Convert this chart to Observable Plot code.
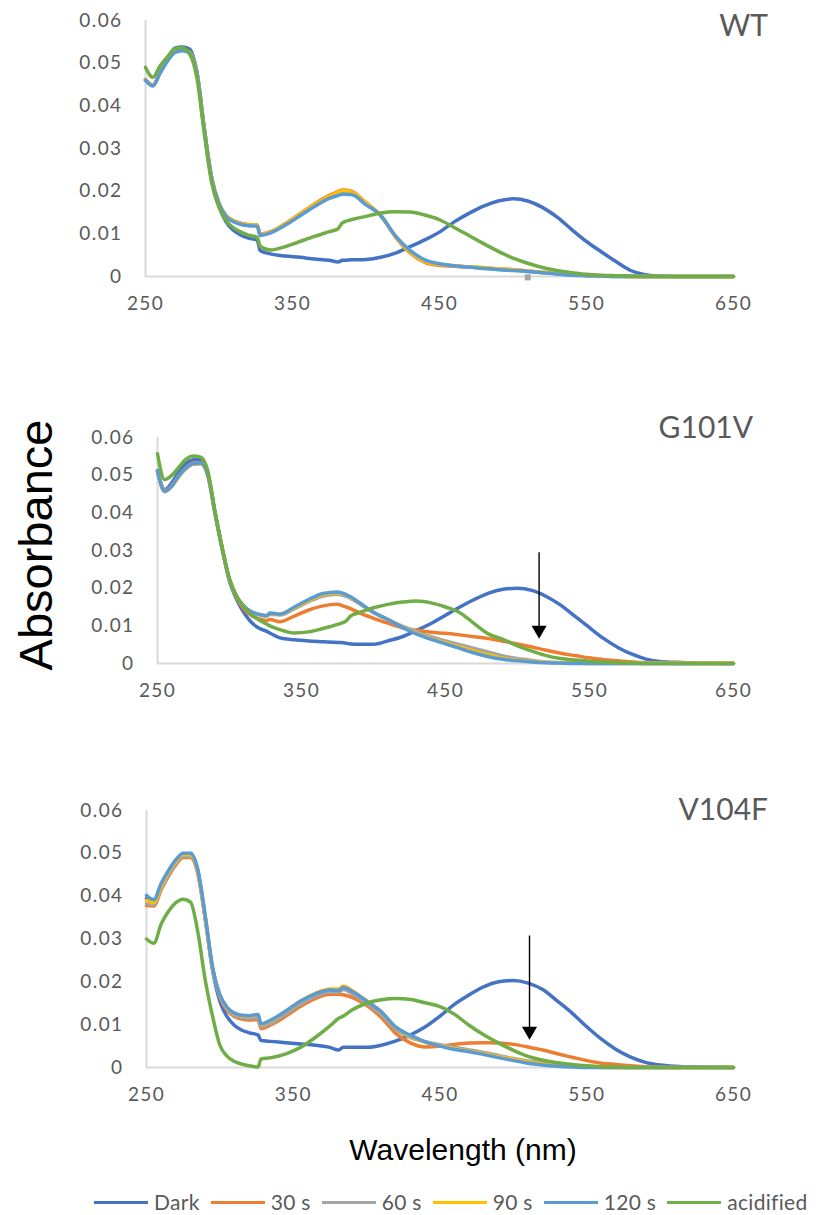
<!DOCTYPE html>
<html><head><meta charset="utf-8">
<script src="https://cdn.jsdelivr.net/npm/d3@7"></script>
<script src="https://cdn.jsdelivr.net/npm/@observablehq/plot@0.6"></script>
<style>
body{margin:0;background:#fff;}
#root{position:relative;width:819px;height:1215px;overflow:hidden;background:#fff;}
.panel{position:absolute;left:0;}
.title{position:absolute;font-family:Lato,sans-serif;font-size:30px;color:#595959;line-height:30px;white-space:nowrap;}
#ylab{position:absolute;left:35px;top:545px;transform:translate(-50%,-50%) rotate(-90deg);font-family:"Liberation Sans",Arial,sans-serif;font-size:47px;color:#000;white-space:nowrap;line-height:47px;}
#xlab{position:absolute;left:463px;top:1150px;transform:translate(-50%,-50%);font-family:"Liberation Sans",Arial,sans-serif;font-size:30px;color:#000;white-space:nowrap;line-height:30px;}
#legend{position:absolute;left:94px;top:1190px;height:24px;display:flex;align-items:center;font-family:Lato,sans-serif;font-size:21px;letter-spacing:0.3px;line-height:24px;color:#595959;white-space:nowrap;}
#legend .lt{display:inline-block;line-height:24px;}
</style></head>
<body><div id="root"></div>
<script>
// ---- data ----
const wavelengths = [250,255,260,265,270,275,280,285,290,295,300,305,310,315,320,326,328,335,345,355,365,375,381,384,390,400,410,420,430,440,450,460,470,480,490,500,510,520,530,540,550,560,570,580,590,600,610,625,650];
const seriesNames = ["Dark","30 s","60 s","90 s","120 s","acidified"];
const seriesColors = ["#4472C4","#ED7D31","#A5A5A5","#FFC000","#5B9BD5","#70AD47"];
const panelTitles = ["WT","G101V","V104F"];
const xTicks = [250,350,450,550,650];
const yTicks = [0,0.01,0.02,0.03,0.04,0.05,0.06];

// WT
const wtDark = [0.0460,0.0447,0.0480,0.0510,0.0535,0.0538,0.0533,0.0478,0.0345,0.0225,0.0165,0.0127,0.0108,0.0097,0.0090,0.0085,0.0061,0.0053,0.0048,0.0045,0.0041,0.0038,0.0034,0.0038,0.0039,0.0040,0.0045,0.0055,0.0070,0.0086,0.0104,0.0128,0.0148,0.0165,0.0177,0.0182,0.0177,0.0162,0.0139,0.0110,0.0082,0.0058,0.0035,0.0014,0.0004,0.0001,0,0,0];
const wt30s = [0.0462,0.0449,0.0479,0.0507,0.0527,0.0531,0.0526,0.0478,0.0347,0.0232,0.0172,0.0142,0.0131,0.0125,0.0122,0.0121,0.0099,0.0105,0.0124,0.0147,0.0170,0.0190,0.0199,0.0203,0.0200,0.0173,0.0143,0.0093,0.0055,0.0033,0.0026,0.0024,0.0022,0.0020,0.0018,0.0016,0.0013,0.0010,0.0007,0.0004,0.0003,0.0002,0.0001,0,0,0,0,0,0];
const wt60s = [0.0461,0.0448,0.0478,0.0506,0.0526,0.0530,0.0525,0.0477,0.0346,0.0231,0.0171,0.0141,0.0130,0.0124,0.0121,0.0120,0.0098,0.0104,0.0122,0.0145,0.0167,0.0186,0.0195,0.0199,0.0197,0.0171,0.0143,0.0095,0.0058,0.0036,0.0028,0.0025,0.0022,0.0020,0.0017,0.0015,0.0012,0.0009,0.0006,0.0004,0.0002,0.0001,0,0,0,0,0,0,0];
const wt90s = [0.0461,0.0448,0.0478,0.0506,0.0526,0.0530,0.0525,0.0477,0.0346,0.0231,0.0171,0.0141,0.0130,0.0124,0.0121,0.0120,0.0098,0.0104,0.0123,0.0146,0.0168,0.0188,0.0197,0.0201,0.0198,0.0172,0.0143,0.0094,0.0057,0.0035,0.0028,0.0025,0.0023,0.0021,0.0018,0.0016,0.0013,0.0010,0.0007,0.0004,0.0003,0.0002,0.0001,0,0,0,0,0,0];
const wt120s = [0.0460,0.0447,0.0477,0.0505,0.0525,0.0529,0.0524,0.0476,0.0345,0.0230,0.0170,0.0140,0.0128,0.0122,0.0119,0.0118,0.0096,0.0102,0.0120,0.0142,0.0164,0.0183,0.0190,0.0193,0.0192,0.0168,0.0143,0.0095,0.0061,0.0039,0.0030,0.0025,0.0022,0.0019,0.0016,0.0014,0.0012,0.0009,0.0006,0.0003,0.0002,0.0001,0,0,0,0,0,0,0];
const wtAcidified = [0.0490,0.0467,0.0494,0.0515,0.0534,0.0536,0.0522,0.0465,0.0335,0.0220,0.0162,0.0130,0.0114,0.0104,0.0097,0.0092,0.0071,0.0062,0.0070,0.0082,0.0094,0.0105,0.0112,0.0126,0.0133,0.0141,0.0149,0.0152,0.0151,0.0144,0.0133,0.0115,0.0096,0.0077,0.0059,0.0043,0.0031,0.0021,0.0014,0.0009,0.0005,0.0003,0.0002,0.0001,0,0,0,0,0];

// G101V
const g101vDark = [0.0512,0.0462,0.0480,0.0510,0.0532,0.0541,0.0542,0.0504,0.0400,0.0305,0.0218,0.0170,0.0135,0.0110,0.0095,0.0085,0.0081,0.0068,0.0063,0.0060,0.0058,0.0056,0.0054,0.0052,0.0051,0.0051,0.0060,0.0071,0.0088,0.0106,0.0128,0.0150,0.0170,0.0187,0.0197,0.0200,0.0194,0.0178,0.0155,0.0125,0.0095,0.0066,0.0042,0.0024,0.0011,0.0005,0.0003,0.0001,0];
const g101v30s = [0.0510,0.0460,0.0473,0.0500,0.0521,0.0532,0.0533,0.0500,0.0398,0.0303,0.0221,0.0174,0.0145,0.0128,0.0119,0.0114,0.0117,0.0111,0.0126,0.0142,0.0153,0.0157,0.0150,0.0146,0.0135,0.0120,0.0107,0.0095,0.0088,0.0083,0.0080,0.0076,0.0071,0.0066,0.0059,0.0052,0.0044,0.0035,0.0027,0.0021,0.0015,0.0010,0.0007,0.0004,0.0002,0.0001,0,0,0];
const g101v60s = [0.0508,0.0456,0.0470,0.0497,0.0518,0.0529,0.0530,0.0498,0.0397,0.0302,0.0221,0.0177,0.0151,0.0137,0.0130,0.0126,0.0131,0.0129,0.0145,0.0164,0.0179,0.0184,0.0178,0.0173,0.0159,0.0135,0.0116,0.0099,0.0084,0.0071,0.0060,0.0050,0.0040,0.0030,0.0020,0.0013,0.0008,0.0004,0.0002,0.0001,0,0,0,0,0,0,0,0,0];
const g101v90s = [0.0510,0.0458,0.0471,0.0499,0.0519,0.0530,0.0531,0.0499,0.0398,0.0303,0.0222,0.0178,0.0152,0.0138,0.0131,0.0127,0.0133,0.0131,0.0148,0.0167,0.0183,0.0188,0.0182,0.0176,0.0161,0.0136,0.0117,0.0097,0.0080,0.0066,0.0055,0.0044,0.0033,0.0023,0.0014,0.0009,0.0005,0.0003,0.0002,0.0001,0.0001,0.0001,0.0001,0.0001,0.0001,0.0001,0.0001,0.0001,0.0001];
const g101v120s = [0.0512,0.0458,0.0472,0.0500,0.0520,0.0531,0.0532,0.0500,0.0398,0.0303,0.0222,0.0178,0.0152,0.0138,0.0131,0.0127,0.0134,0.0131,0.0150,0.0170,0.0186,0.0190,0.0183,0.0177,0.0162,0.0136,0.0117,0.0096,0.0078,0.0064,0.0052,0.0040,0.0028,0.0018,0.0011,0.0007,0.0004,0.0002,0.0001,0,0,0,0,0,0,0,0,0,0];
const g101vAcidified = [0.0557,0.0488,0.0500,0.0522,0.0543,0.0551,0.0548,0.0510,0.0402,0.0306,0.0225,0.0178,0.0150,0.0130,0.0117,0.0104,0.0100,0.0090,0.0081,0.0084,0.0093,0.0104,0.0113,0.0126,0.0135,0.0148,0.0157,0.0163,0.0166,0.0161,0.0150,0.0135,0.0106,0.0078,0.0064,0.0047,0.0033,0.0021,0.0013,0.0009,0.0006,0.0004,0.0002,0.0001,0,0,0,0,0];

// V104F
const v104fDark = [0.0395,0.0388,0.0425,0.0456,0.0482,0.0498,0.0498,0.0458,0.0350,0.0228,0.0155,0.0118,0.0098,0.0087,0.0081,0.0076,0.0063,0.0061,0.0058,0.0055,0.0052,0.0047,0.0041,0.0047,0.0047,0.0047,0.0052,0.0062,0.0076,0.0095,0.0120,0.0148,0.0170,0.0189,0.0200,0.0203,0.0197,0.0182,0.0155,0.0127,0.0095,0.0066,0.0042,0.0024,0.0012,0.0006,0.0003,0.0001,0];
const v104f30s = [0.0378,0.0377,0.0415,0.0447,0.0473,0.0490,0.0490,0.0452,0.0347,0.0230,0.0165,0.0133,0.0119,0.0113,0.0111,0.0112,0.0091,0.0100,0.0120,0.0143,0.0161,0.0171,0.0171,0.0170,0.0164,0.0145,0.0117,0.0079,0.0057,0.0048,0.0050,0.0054,0.0057,0.0058,0.0057,0.0054,0.0048,0.0041,0.0032,0.0024,0.0016,0.0010,0.0007,0.0004,0.0002,0.0001,0,0,0];
const v104f60s = [0.0382,0.0380,0.0418,0.0450,0.0476,0.0493,0.0493,0.0455,0.0349,0.0232,0.0167,0.0136,0.0122,0.0117,0.0115,0.0117,0.0095,0.0104,0.0125,0.0148,0.0166,0.0176,0.0176,0.0182,0.0173,0.0150,0.0124,0.0089,0.0070,0.0060,0.0053,0.0047,0.0041,0.0035,0.0028,0.0021,0.0015,0.0010,0.0006,0.0003,0.0002,0.0001,0,0,0,0,0,0,0];
const v104f90s = [0.0390,0.0385,0.0424,0.0456,0.0481,0.0497,0.0497,0.0459,0.0352,0.0234,0.0169,0.0139,0.0126,0.0121,0.0120,0.0123,0.0101,0.0110,0.0131,0.0155,0.0173,0.0183,0.0183,0.0190,0.0180,0.0156,0.0130,0.0094,0.0073,0.0059,0.0051,0.0044,0.0038,0.0032,0.0025,0.0019,0.0013,0.0008,0.0005,0.0003,0.0001,0,0,0,0,0,0,0,0];
const v104f120s = [0.0402,0.0392,0.0430,0.0460,0.0485,0.0500,0.0500,0.0462,0.0355,0.0235,0.0170,0.0140,0.0127,0.0122,0.0121,0.0124,0.0102,0.0111,0.0132,0.0155,0.0172,0.0181,0.0180,0.0187,0.0178,0.0155,0.0130,0.0094,0.0075,0.0060,0.0050,0.0042,0.0037,0.0030,0.0023,0.0016,0.0010,0.0006,0.0003,0.0001,0,0,0,0,0,0,0,0,0];
const v104fAcidified = [0.0300,0.0290,0.0335,0.0365,0.0385,0.0393,0.0386,0.0316,0.0205,0.0120,0.0052,0.0026,0.0014,0.0008,0.0004,0.0001,0.0020,0.0023,0.0032,0.0047,0.0070,0.0097,0.0115,0.0120,0.0134,0.0150,0.0158,0.0161,0.0159,0.0151,0.0142,0.0124,0.0098,0.0076,0.0057,0.0040,0.0026,0.0017,0.0011,0.0007,0.0004,0.0002,0.0001,0,0,0,0,0,0];

// arrows: [wavelength, top absorbance, tip absorbance] (none for WT)
const arrowG101V = [515, 0.0278, 0.0066];
const arrowV104F = [511, 0.0293, 0.0065];
// small grey marker sitting on WT baseline: [wavelength, absorbance]
const wtMarker = [510, -0.0002];

// ---- layout ----
const panels = [
  {title: panelTitles[0], series: [wtDark, wt30s, wt60s, wt90s, wt120s, wtAcidified], arrow: null, marker: wtMarker,
   top: 0, height: 330, mt: 20, mb: 54, ml: 145, titleRight: 51, titleTop: 9},
  {title: panelTitles[1], series: [g101vDark, g101v30s, g101v60s, g101v90s, g101v120s, g101vAcidified], arrow: arrowG101V, marker: null,
   top: 400, height: 320, mt: 37, mb: 57, ml: 157, titleRight: 66, titleTop: 411},
  {title: panelTitles[2], series: [v104fDark, v104f30s, v104f60s, v104f90s, v104f120s, v104fAcidified], arrow: arrowV104F, marker: null,
   top: 780, height: 340, mt: 30, mb: 53, ml: 146, titleRight: 51, titleTop: 793}
];

const root = document.getElementById("root");
const yFmt = d => d === 0 ? "0" : d3.format(".2f")(d);

panels.forEach(p => {
  const rows = seriesNames.flatMap((s, i) => wavelengths.map((w, j) => ({wl: w, v: p.series[i][j], series: s})));
  const marks = [
    Plot.ruleY([0], {stroke: "#d9d9d9", strokeWidth: 2}),
    Plot.ruleX([250], {y1: 0, y2: 0.06, stroke: "#d9d9d9", strokeWidth: 2}),
    Plot.axisX(xTicks, {tickSize: 0, tickPadding: 20, label: null, fill: "#595959"}),
    Plot.axisY(yTicks, {tickSize: 0, tickPadding: 23, label: null, tickFormat: yFmt, fill: "#595959"}),
  ];
  if (p.marker) {
    marks.push(Plot.dot([p.marker], {x: d => d[0], y: d => d[1], symbol: "square", r: 3.4, fill: "#A5A5A5", stroke: "none"}));
  }
  marks.push(Plot.line(rows, {x: "wl", y: "v", z: "series", stroke: "series", curve: "monotone-x",
    strokeWidth: 3.5, strokeLinejoin: "round", strokeLinecap: "round"}));
  if (p.arrow) {
    marks.push(Plot.ruleX([p.arrow], {x: d => d[0], y1: d => d[1], y2: d => d[2], stroke: "#000", strokeWidth: 1.4, dy: -6}));
    marks.push(Plot.dot([p.arrow], {x: d => d[0], y: d => d[2], symbol: "triangle", rotate: 180, r: 5.6, fill: "#000", stroke: "none", dy: -8.6}));
  }
  const svg = Plot.plot({
    width: 819, height: p.height,
    marginLeft: p.ml, marginRight: 86, marginTop: p.mt, marginBottom: p.mb,
    style: "font-family: Lato, sans-serif; font-size: 19px; letter-spacing: 1.4px; color: #595959; background: transparent; overflow: visible;",
    x: {domain: [250, 650], axis: null},
    y: {domain: [0, 0.06], axis: null},
    color: {domain: seriesNames, range: seriesColors},
    marks
  });
  const holder = document.createElement("div");
  holder.className = "panel";
  holder.style.top = p.top + "px";
  holder.appendChild(svg);
  root.appendChild(holder);

  const t = document.createElement("div");
  t.className = "title";
  t.textContent = p.title;
  t.style.right = p.titleRight + "px";
  t.style.top = p.titleTop + "px";
  root.appendChild(t);
});

const ylab = document.createElement("div");
ylab.id = "ylab"; ylab.textContent = "Absorbance";
root.appendChild(ylab);
const xlab = document.createElement("div");
xlab.id = "xlab"; xlab.textContent = "Wavelength (nm)";
root.appendChild(xlab);

const legend = document.createElement("div");
legend.id = "legend";
seriesNames.forEach((s, i) => {
  const sw = document.createElement("span");
  sw.style.cssText = `display:inline-block;width:54px;height:3px;background:${seriesColors[i]};margin-right:6px;`;
  const tx = document.createElement("span");
  tx.className = "lt";
  tx.textContent = s;
  tx.style.marginRight = i < seriesNames.length - 1 ? "11px" : "0";
  legend.appendChild(sw);
  legend.appendChild(tx);
});
root.appendChild(legend);
</script>
</body></html>
